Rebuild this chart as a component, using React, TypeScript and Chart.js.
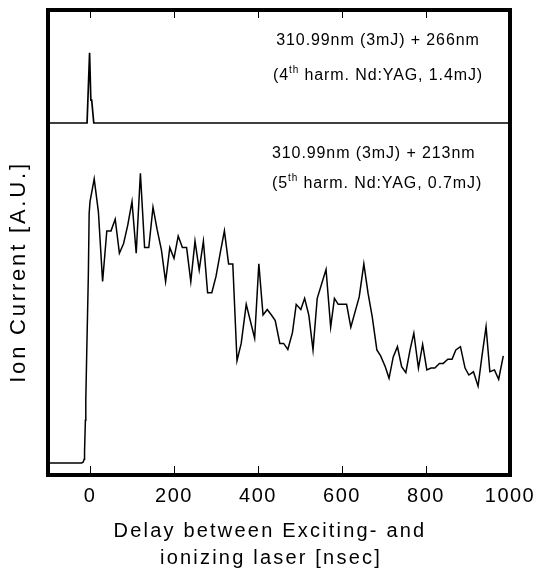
import React, { useEffect, useRef } from "react";
import { Chart, registerables } from "chart.js";

Chart.register(...registerables);

const tickValues = [0, 200, 400, 600, 800, 1000];

// upper trace: 266 nm ionisation
const topDelay = [-100, -7, -1, 2, 4, 9, 1000];
const topSignal = [75.7, 75.7, 90.8, 80.6, 80.6, 75.7, 75.7];

// lower trace: 213 nm ionisation
const bottomDelay = [
  -100, -20, -16, -14, -13, -11, -10, -8, -4, -2, 0, 10, 20, 30, 40, 50, 60, 70, 80, 90,
  100, 110, 120, 130, 140, 150, 160, 170, 180, 190, 200, 210, 220, 230, 240, 250, 260, 270,
  280, 290, 300, 310, 320, 330, 340, 350, 360, 372, 392, 402, 412, 422, 432, 441, 452, 461,
  471, 482, 491, 502, 511, 521, 531, 541, 562, 573, 582, 591, 611, 621, 641, 652, 662, 672,
  683, 692, 703, 712, 722, 732, 742, 752, 762, 771, 782, 792, 802, 812, 821, 832, 841, 852,
  862, 871, 882, 893, 902, 913, 924, 933, 943, 952, 963, 973, 984,
];
const bottomSignal = [
  2.6, 2.6, 2.8, 3.4, 5.0, 11.8, 16.1, 25.2, 42.7, 56.3, 58.8, 63.7, 56.6, 41.6, 52.5, 52.5,
  55.0, 47.7, 49.8, 53.8, 58.8, 47.7, 64.9, 48.9, 48.9, 57.6, 52.7, 48.4, 41.6, 48.9, 46.6,
  51.4, 48.9, 48.9, 41.6, 50.3, 44.1, 50.3, 39.2, 39.2, 42.7, 47.7, 52.5, 45.4, 45.4, 24.6,
  28.3, 36.7, 29.4, 45.4, 34.4, 35.6, 34.4, 33.2, 28.3, 28.3, 27.0, 30.6, 36.7, 35.6, 38.0,
  34.4, 26.9, 38.0, 44.2, 31.8, 38.0, 36.7, 36.7, 31.8, 38.3, 45.4, 39.1, 34.0, 26.9, 25.6,
  23.3, 20.8, 25.4, 27.6, 23.3, 22.0, 26.9, 30.5, 23.0, 28.1, 22.6, 23.0, 23.0, 24.0, 24.0,
  24.9, 24.9, 26.9, 27.6, 23.0, 21.5, 22.2, 19.1, 25.4, 31.9, 22.2, 22.6, 20.6, 25.6,
];

const topLabel1 = "310.99nm (3mJ) + 266nm";
const topLabel2 = ["(4", "th", " harm. Nd:YAG, 1.4mJ)"];
const bottomLabel1 = "310.99nm (3mJ) + 213nm";
const bottomLabel2 = ["(5", "th", " harm. Nd:YAG, 0.7mJ)"];
const xTitle = ["Delay between Exciting- and", "ionizing laser [nsec]"];
const yTitle = "Ion Current [A.U.]";

const FONT = '"Liberation Sans", Arial, sans-serif';

function drawSup(
  ctx: CanvasRenderingContext2D,
  parts: string[],
  x0: number,
  cy: number,
  centered: boolean
) {
  const main = `16px ${FONT}`;
  const small = `10px ${FONT}`;
  ctx.font = main;
  const w0 = ctx.measureText(parts[0]).width;
  const w2 = ctx.measureText(parts[2]).width;
  ctx.font = small;
  const w1 = ctx.measureText(parts[1]).width;
  let x = centered ? x0 - (w0 + w1 + w2) / 2 : x0;
  ctx.textAlign = "left";
  ctx.textBaseline = "middle";
  ctx.font = main;
  ctx.fillText(parts[0], x, cy);
  x += w0;
  ctx.font = small;
  ctx.fillText(parts[1], x, cy - 6);
  x += w1;
  ctx.font = main;
  ctx.fillText(parts[2], x, cy);
}

const framePlugin = {
  id: "framePlugin",
  beforeDraw(chart: any) {
    (chart.ctx as any).letterSpacing = "1.5px";
  },
  afterDraw(chart: any) {
    const { ctx, chartArea: a, scales } = chart;
    const xs = scales.x;
    ctx.save();
    ctx.strokeStyle = "#000";
    ctx.fillStyle = "#000";
    ctx.lineWidth = 4;
    ctx.strokeRect(a.left, a.top, a.right - a.left, a.bottom - a.top);
    ctx.lineWidth = 1;
    ctx.beginPath();
    for (const v of tickValues) {
      const px = Math.round(xs.getPixelForValue(v)) + 0.5;
      ctx.moveTo(px, a.bottom);
      ctx.lineTo(px, a.bottom - 9);
      ctx.moveTo(px, a.top);
      ctx.lineTo(px, a.top + 8);
    }
    ctx.stroke();

    // annotations
    (ctx as any).letterSpacing = "0.9px";
    ctx.textBaseline = "middle";
    ctx.font = `16px ${FONT}`;
    ctx.textAlign = "center";
    ctx.fillText(topLabel1, 378, 41);
    drawSup(ctx, topLabel2, 378, 76, true);
    ctx.font = `16px ${FONT}`;
    ctx.textAlign = "left";
    ctx.fillText(bottomLabel1, 272, 154);
    drawSup(ctx, bottomLabel2, 272, 184, false);

    // axis titles
    (ctx as any).letterSpacing = "2.2px";
    ctx.textAlign = "center";
    ctx.textBaseline = "middle";
    ctx.font = `20px ${FONT}`;
    ctx.fillText(xTitle[0], 270, 531);
    ctx.fillText(xTitle[1], 271, 558);

    (ctx as any).letterSpacing = "2.8px";
    ctx.font = `22px ${FONT}`;
    ctx.translate(19, 272);
    ctx.rotate(-Math.PI / 2);
    ctx.fillText(yTitle, 0, 0);
    ctx.restore();
  },
};

export default function App() {
  const ref = useRef<HTMLCanvasElement | null>(null);
  useEffect(() => {
    if (!ref.current) return;
    const chart = new Chart(ref.current, {
      type: "scatter",
      data: {
        datasets: [
          {
            data: topDelay.map((x, i) => ({ x, y: topSignal[i] })),
            showLine: true,
            borderColor: "#000",
            borderWidth: 1.7,
            pointRadius: 0,
            tension: 0,
          },
          {
            data: bottomDelay.map((x, i) => ({ x, y: bottomSignal[i] })),
            showLine: true,
            borderColor: "#000",
            borderWidth: 1.5,
            pointRadius: 0,
            tension: 0,
          },
        ],
      },
      options: {
        animation: false,
        responsive: false,
        devicePixelRatio: 1,
        layout: { padding: { left: 48, top: 10, right: 28, bottom: 0 } },
        plugins: { legend: { display: false }, tooltip: { enabled: false } },
        scales: {
          x: {
            type: "linear",
            min: -100,
            max: 1000,
            grid: { display: false },
            border: { display: false },
            afterBuildTicks: (scale: any) => {
              scale.ticks = tickValues.map((v) => ({ value: v }));
            },
            afterFit: (scale: any) => {
              scale.height = 94;
            },
            ticks: {
              color: "#000",
              font: { family: FONT, size: 20 },
              padding: 1,
              maxRotation: 0,
              autoSkip: false,
              callback: (v: any) => String(v),
            },
          },
          y: {
            type: "linear",
            min: 0,
            max: 100,
            display: false,
          },
        },
      },
      plugins: [framePlugin],
    });
    return () => chart.destroy();
  }, []);
  return (
    <div style={{ position: "fixed", left: 0, top: 0, width: 538, height: 569, background: "#fff" }}>
      <canvas ref={ref} width={538} height={569} />
    </div>
  );
}
